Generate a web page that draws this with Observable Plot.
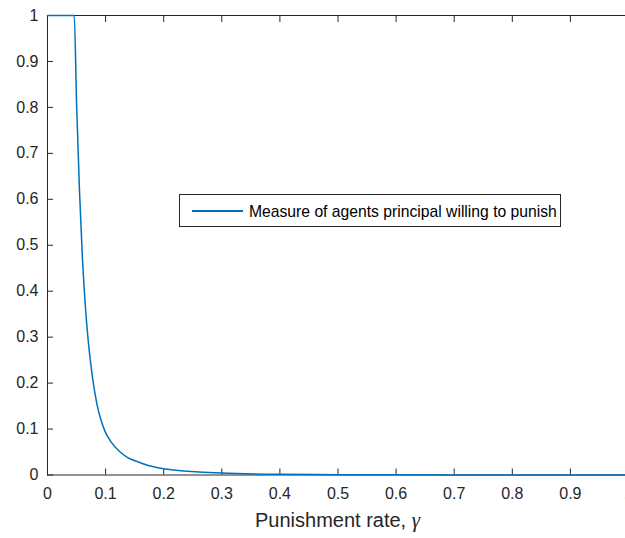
<!DOCTYPE html>
<html><head><meta charset="utf-8">
<script src="https://cdn.jsdelivr.net/npm/d3@7"></script>
<script src="https://cdn.jsdelivr.net/npm/@observablehq/plot@0.6"></script>
<style>
html,body{margin:0;padding:0;background:#fff;overflow:hidden;}
#wrap{position:relative;width:625px;height:538px;font-family:"Liberation Sans",Arial,sans-serif;overflow:hidden;}
#legend{position:absolute;left:179px;top:194px;width:382px;height:33px;box-sizing:border-box;border:1px solid #262626;background:#fff;}
#legend .swatch{position:absolute;left:12px;top:15px;width:51px;height:1.5px;background:#0072BD;}
#legend .txt{position:absolute;left:69px;top:0;line-height:31px;padding-top:1px;font-size:15.7px;color:#000;white-space:nowrap;}
#xlabel{position:absolute;left:47px;width:581px;top:510px;line-height:20px;text-align:center;font-size:20px;color:#262626;white-space:nowrap;}
#xlabel i{font-family:"Liberation Serif","Times New Roman",serif;font-size:21px;}
</style>
</head><body>
<div id="wrap"></div>
<script>
// Data
const gamma   = [0, 0.046, 0.050, 0.055, 0.060, 0.065, 0.070, 0.0775, 0.085, 0.091, 0.0986, 0.110, 0.124, 0.138, 0.153, 0.175, 0.200, 0.230, 0.260, 0.300, 0.400, 0.500, 0.600, 0.800, 1.000];
const measure = [1, 1, 0.81, 0.62, 0.475, 0.37, 0.293, 0.212, 0.155, 0.124, 0.096, 0.071, 0.051, 0.038, 0.0298, 0.020, 0.0138, 0.0092, 0.0066, 0.0042, 0.0016, 0.0008, 0.0004, 0.0002, 0.0001];
const xTicks = [0, 0.1, 0.2, 0.3, 0.4, 0.5, 0.6, 0.7, 0.8, 0.9, 1];
const yTicks = [0, 0.1, 0.2, 0.3, 0.4, 0.5, 0.6, 0.7, 0.8, 0.9, 1];
const seriesName = "Measure of agents principal willing to punish";
const xLabelText = "Punishment rate, ";
const xLabelSymbol = "γ";

const data = gamma.map((g, i) => ({gamma: g, measure: measure[i]}));
const ink = "#262626";

const chart = Plot.plot({
  width: 625, height: 538,
  marginLeft: 47, marginRight: -3, marginTop: 15, marginBottom: 63.5,
  style: {fontFamily: "Liberation Sans, Arial, sans-serif", fontSize: "16px", color: ink, background: "#fff", overflow: "hidden"},
  x: {domain: [0, 1]},
  y: {domain: [0, 1]},
  marks: [
    Plot.frame({stroke: ink}),
    Plot.axisX(xTicks, {anchor: "bottom", tickSize: -6, fill: "none", stroke: ink, label: null}),
    Plot.axisX(xTicks, {anchor: "top", tickSize: -6, fill: "none", stroke: ink, label: null}),
    Plot.axisY(yTicks, {anchor: "left", tickSize: -6, fill: "none", stroke: ink, label: null}),
    Plot.axisX(xTicks, {anchor: "bottom", tickSize: 0, tickPadding: 13, stroke: "none", fill: ink, label: null, tickFormat: d => String(d)}),
    Plot.axisY(yTicks, {anchor: "left", tickSize: 0, tickPadding: 9, stroke: "none", fill: ink, label: null, tickFormat: d => String(d)}),
    Plot.line(data, {x: "gamma", y: "measure", stroke: "#0072BD", strokeWidth: 1.5, curve: "monotone-x"})
  ]
});
const wrap = document.getElementById("wrap");
wrap.appendChild(chart);

const legend = document.createElement("div");
legend.id = "legend";
legend.innerHTML = `<div class="swatch"></div><div class="txt"></div>`;
legend.querySelector(".txt").textContent = seriesName;
wrap.appendChild(legend);

const xl = document.createElement("div");
xl.id = "xlabel";
xl.append(document.createTextNode(xLabelText));
const it = document.createElement("i");
it.textContent = xLabelSymbol;
xl.append(it);
wrap.appendChild(xl);
</script>
</body></html>
